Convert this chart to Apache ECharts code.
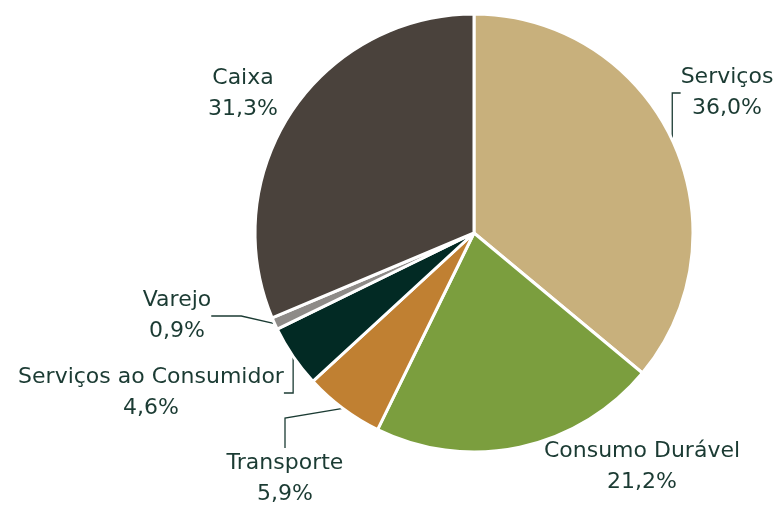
<!DOCTYPE html>
<html>
<head>
<meta charset="utf-8">
<script src="https://cdn.jsdelivr.net/npm/echarts@6/dist/echarts.min.js"></script>
<style>
  html, body { margin: 0; padding: 0; background: #ffffff; }
  #chart { width: 780px; height: 506px; }
</style>
</head>
<body>
<div id="chart"></div>
<script>
// setores da carteira
const categories = ['Serviços', 'Consumo Durável', 'Transporte', 'Serviços ao Consumidor', 'Varejo', 'Caixa']
const values = [36.0, 21.2, 5.9, 4.6, 0.9, 31.3]
const colors = ['#c8b07c', '#7b9e3e', '#c08032', '#022a24', '#8e8b88', '#4a423c']
const showLine = [true, false, true, true, true, false]
// posição dos rótulos (centro do bloco de texto)
const labelPos = [[727, 93], [642, 467], [285, 479], [151, 393], [177, 316], [243, 94]]

const chart = echarts.init(document.getElementById('chart'))

const fmt = v => v.toFixed(1).replace('.', ',') + '%'

chart.setOption({
  backgroundColor: '#ffffff',
  animation: false,
  series: [
    {
      type: 'pie',
      center: [474, 233],
      radius: 219,
      startAngle: 90,
      clockwise: true,
      data: categories.map((name, i) => ({
        name,
        value: values[i],
        itemStyle: { color: colors[i] },
        labelLine: { show: showLine[i] }
      })),
      itemStyle: { borderColor: '#ffffff', borderWidth: 3 },
      label: {
        show: true,
        position: 'outside',
        formatter: p => p.name + '\n' + fmt(p.value),
        color: '#1b3b33',
        fontFamily: 'DejaVu Sans',
        fontSize: 22,
        lineHeight: 31,
        align: 'center',
        overflow: 'none'
      },
      labelLine: {
        show: true,
        lineStyle: { color: '#1b3b33', width: 1.3 }
      },
      labelLayout: params => {
        const p = labelPos[params.dataIndex]
        return { x: p[0], y: p[1], align: 'center', verticalAlign: 'middle' }
      }
    }
  ]
})
</script>
</body>
</html>
